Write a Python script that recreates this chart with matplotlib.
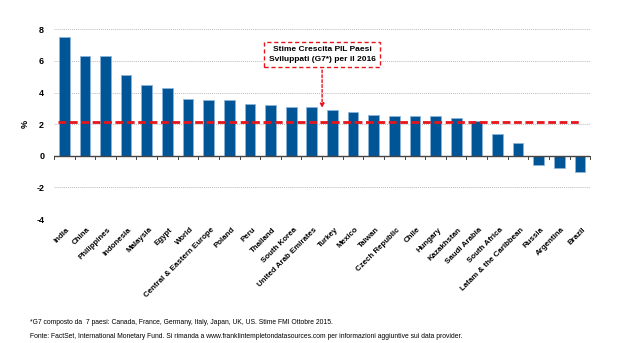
import matplotlib.pyplot as plt
import numpy as np

plt.rcParams['font.family'] = ['Liberation Sans', 'DejaVu Sans']

countries = ["India", "China", "Philippines", "Indonesia", "Malaysia", "Egypt", "World",
             "Central & Eastern Europe", "Poland", "Peru", "Thailand", "South Korea",
             "United Arab Emirates", "Turkey", "Mexico", "Taiwan", "Czech Republic", "Chile",
             "Hungary", "Kazakhstan", "Saudi Arabia", "South Africa", "Latam & the Caribbean",
             "Russia", "Argentina", "Brazil"]
growth = [7.5, 6.3, 6.3, 5.1, 4.5, 4.3, 3.6, 3.5, 3.5, 3.3, 3.2, 3.1, 3.1,
          2.9, 2.8, 2.6, 2.5, 2.5, 2.5, 2.4, 2.2, 1.4, 0.8, -0.6, -0.8, -1.0]
g7 = 2.15
yticks = [-4, -2, 0, 2, 4, 6, 8]

fig = plt.figure(figsize=(6.2, 3.43), dpi=100)
ax = fig.add_axes([0.087, 0.3615, 0.865, 0.553])

x = np.arange(len(countries))
ax.bar(x, growth, width=0.52, color='#005596', edgecolor='#8DB4DA', linewidth=0.6, zorder=3)

for y in yticks:
    if y != 0:
        ax.axhline(y, color='#BBBBBB', lw=0.7, ls=(0, (1, 1)), zorder=1)
ax.axhline(0, color='#444444', lw=1.0, zorder=4)
for b in np.arange(-0.5, len(countries), 1.0):
    ax.plot([b, b], [0, -0.2], color='#444444', lw=0.7, zorder=4, clip_on=False)

ax.plot([-0.3, 25.0], [g7, g7], color='#E8141B', lw=2.0, ls=(0, (2.8, 1.3)), zorder=5)

ax.set_xlim(-0.5, len(countries) - 0.5)
ax.set_ylim(-4, 8)
ax.set_yticks(yticks)
ax.set_yticklabels([str(v) for v in yticks], fontsize=6.5, fontweight='bold')
ax.tick_params(axis='y', length=0, pad=7)
ax.set_xticks([])
for s in ax.spines.values():
    s.set_visible(False)
ax.set_ylabel('%', fontsize=6.5, fontweight='bold', labelpad=5)

for i, c in enumerate(countries):
    ax.text(i + 0.1, -4.45, c, rotation=45, ha='right', va='top', rotation_mode='anchor',
            fontsize=5.7, fontweight='bold')

ax.annotate('', xy=(12.5, 2.85), xytext=(12.5, 5.6),
            arrowprops=dict(arrowstyle='-|>', color='#E8141B', lw=1.0, ls=(0, (2, 1.5)),
                            mutation_scale=6), zorder=6)
ax.text(12.5, 6.4, 'Stime Crescita PIL Paesi\nSviluppati (G7*) per il 2016', ha='center', va='center',
        fontsize=6, fontweight='bold', linespacing=1.5, zorder=7,
        bbox=dict(boxstyle='square,pad=0.5', fc='white', ec='#E8141B', lw=1.0, ls=(0, (3, 2))))

fig.text(0.048, 0.061, '*G7 composto da  7 paesi: Canada, France, Germany, Italy, Japan, UK, US. Stime FMI Ottobre 2015.',
         fontsize=4.9, va='center')
fig.text(0.048, 0.02, 'Fonte: FactSet, International Monetary Fund. Si rimanda a www.franklintempletondatasources.com per informazioni aggiuntive sui data provider.',
         fontsize=4.9, va='center')

fig.savefig('out.png', dpi=100)
